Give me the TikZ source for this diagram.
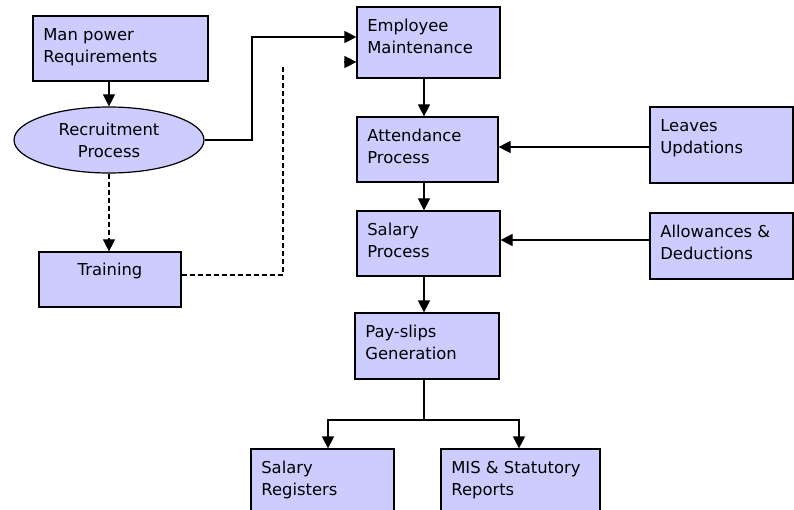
\documentclass[tikz,border=0pt]{standalone}
\usepackage{fontspec}
\setmainfont{DejaVu Sans}
\usetikzlibrary{arrows.meta,shapes.geometric}
\definecolor{boxfill}{HTML}{CCCCFF}
\begin{document}
\begin{tikzpicture}[x=0.75pt,y=-0.75pt,
  txt/.style={font=\fontsize{12.3}{16.5}\selectfont},
  box/.style={draw=black, fill=boxfill, line width=0.9pt, inner sep=0pt, minimum width=107.25pt, minimum height=49.5pt},
  lbl/.style={txt, anchor=north west, align=left, inner sep=0pt, xshift=8pt, yshift=-9.5pt},
  tip/.style={-{Triangle[length=9pt,width=9pt]}},
  arr/.style={line width=0.9pt, tip},
  con/.style={line width=0.9pt},
  dsh/.style={line width=0.9pt, dash pattern=on 3.75pt off 2.25pt}]
\useasboundingbox (0,0) rectangle (794,510);

\node[box, minimum width=131.25pt, minimum height=48.75pt, label={[lbl]north west:{Man power\\Requirements}}] (man) at (120.5,48.5) {};
\node[box, ellipse, minimum width=142.5pt, minimum height=49.5pt, txt, align=center] (ell) at (109,140) {Recruitment\\Process};
\node[box, minimum width=106.5pt, minimum height=41.25pt, label={[txt, anchor=north, inner sep=0pt, yshift=-8.5pt]north:Training}] (train) at (110,279.5) {};

\node[box, minimum height=53.25pt, label={[lbl]north west:{Employee\\Maintenance}}] (emp) at (428.5,42.5) {};
\node[box, minimum width=105.75pt, minimum height=48.75pt, label={[lbl]north west:{Attendance\\Process}}] (att) at (427.5,149.5) {};
\node[box, minimum height=48.75pt, label={[lbl]north west:{Salary\\Process}}] (sal) at (428.5,243.5) {};
\node[box, minimum height=57pt, label={[lbl]north west:{Leaves\\Updations}}] (leave) at (721.5,145) {};
\node[box, label={[lbl]north west:{Allowances \&\\Deductions}}] (allow) at (721.5,246) {};
\node[box, minimum width=108pt, label={[lbl]north west:{Pay-slips\\Generation}}] (pay) at (427,346) {};
\node[box, label={[lbl]north west:{Salary\\Registers}}] (reg) at (322.5,482) {};
\node[box, minimum width=119.25pt, label={[lbl]north west:{MIS \& Statutory\\Reports}}] (mis) at (520.5,482) {};

\coordinate (ax) at (424,0);
\coordinate (r1) at (252,37);
\coordinate (d1) at (283,275);
\coordinate (d2) at (283,65);
\coordinate (fa) at (344,62);
\coordinate (yl) at (0,147);
\coordinate (ya) at (0,240);
\coordinate (sp) at (424,420);
\coordinate (bl) at (328,420);
\coordinate (br) at (519,420);

\draw[arr] (ell.north |- man.south) -- (ell.north);
\draw[arr] (ell.east) -| (r1) -- (emp.west |- r1);
\draw[dsh, tip] (ell.south) -- (train.north -| ell.south);
\draw[dsh] (train.east |- d1) -- (d1) -- (d2);
\draw[arr] (fa) -- (emp.west |- fa);
\draw[arr] (emp.south -| ax) -- (att.north -| ax);
\draw[arr] (att.south -| ax) -- (sal.north -| ax);
\draw[arr] (sal.south -| ax) -- (pay.north -| ax);
\draw[arr] (leave.west |- yl) -- (att.east |- yl);
\draw[arr] (allow.west |- ya) -- (sal.east |- ya);
\draw[con] (pay.south -| ax) -- (sp);
\draw[arr] (sp) -- (bl) -- (reg.north -| bl);
\draw[arr] (sp) -- (br) -- (mis.north -| br);
\end{tikzpicture}
\end{document}
